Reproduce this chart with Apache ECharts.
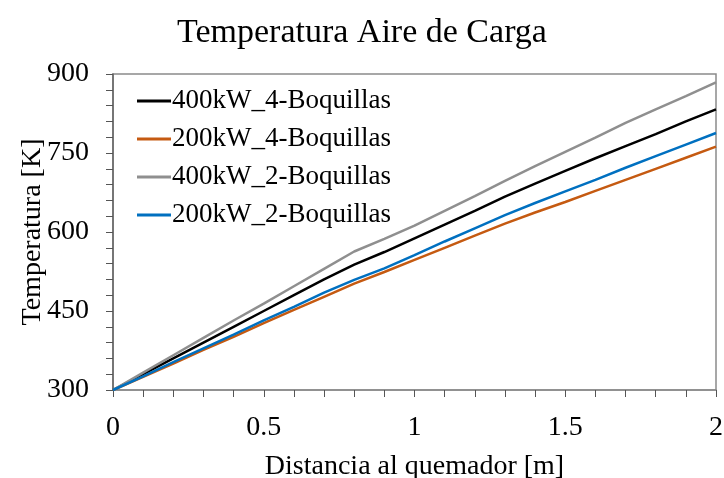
<!DOCTYPE html>
<html>
<head>
<meta charset="utf-8">
<script src="https://cdn.jsdelivr.net/npm/echarts@6/dist/echarts.min.js"></script>
<style>html,body{margin:0;padding:0;background:#fff}#c{width:724px;height:478px}</style>
</head>
<body>
<div id="c"></div>
<script>
const distances = [0,0.1,0.2,0.3,0.4,0.5,0.6,0.7,0.8,0.9,1.0,1.1,1.2,1.3,1.4,1.5,1.6,1.7,1.8,1.9,2.0];
const seriesNames = ['400kW_4-Boquillas','200kW_4-Boquillas','400kW_2-Boquillas','200kW_2-Boquillas'];
const t400_4 = [300,330,360,390,420,450,480,510,538,562,588,614,640,667,692,716,740,763,786,810,833];
const t200_4 = [300,325,350,376,401,427,452,477,502,524,547,570,593,616,637,657,678,699,720,741,762];
const t400_2 = [300,333,366,399,432,464,497,530,563,587,612,640,668,697,725,752,779,807,833,858,884];
const t200_2 = [300,326,353,379,405,432,458,485,509,531,556,582,607,632,655,677,699,722,744,766,788];
const xTicks = [0,0.5,1,1.5,2];
const yTicks = [300,450,600,750,900];

const colors = ['#000000','#C55A11','#8F8F8F','#0070C0'];
const allData = [t400_4,t200_4,t400_2,t200_2];
const font = 'Liberation Serif';

const chart = echarts.init(document.getElementById('c'));
chart.setOption({
  animation:false,
  title:{text:'Temperatura Aire de Carga',left:'center',top:11,
    textStyle:{fontFamily:font,fontSize:34,fontWeight:'normal',color:'#000'}},
  legend:{orient:'vertical',left:132,top:82,itemWidth:34,itemHeight:3,itemGap:10,
    icon:'rect',
    textStyle:{fontFamily:font,fontSize:27,lineHeight:28,color:'#000',padding:[0,0,0,-4]},
    data:seriesNames},
  grid:{left:113,right:8,top:74,bottom:88,outerBoundsMode:'none',containLabel:false,
    show:true,borderColor:'#8a8a8a',borderWidth:1.5},
  xAxis:{type:'value',min:0,max:2,interval:0.5,
    name:'Distancia al quemador [m]',nameLocation:'middle',nameGap:63,nameMoveOverlap:false,
    nameTextStyle:{fontFamily:font,fontSize:28,color:'#000'},
    axisLine:{show:true,lineStyle:{color:'#8a8a8a',width:1.5}},
    axisTick:{show:true,length:7,lineStyle:{color:'#555'}},
    minorTick:{show:true,splitNumber:5,length:7,lineStyle:{color:'#555'}},
    splitLine:{show:false},
    axisLabel:{fontFamily:font,fontSize:28,color:'#000',margin:24,
      formatter:v=>xTicks.includes(v)?String(v):''}},
  yAxis:{type:'value',min:300,max:900,interval:150,
    name:'Temperatura [K]',nameLocation:'middle',nameGap:66,nameMoveOverlap:false,
    nameTextStyle:{fontFamily:font,fontSize:28,color:'#000'},
    axisLine:{show:true,lineStyle:{color:'#666',width:1.5}},
    axisTick:{show:true,length:7,lineStyle:{color:'#555'}},
    minorTick:{show:true,splitNumber:5,length:7,lineStyle:{color:'#555'}},
    splitLine:{show:false},
    axisLabel:{fontFamily:font,fontSize:28,color:'#000',margin:24,
      formatter:v=>yTicks.includes(v)?String(v):''}},
  series:seriesNames.map((n,i)=>({
    name:n,type:'line',showSymbol:false,symbol:'none',
    data:distances.map((d,j)=>[d,allData[i][j]]),
    lineStyle:{color:colors[i],width:2.5},itemStyle:{color:colors[i]}
  }))
});
</script>
</body>
</html>
